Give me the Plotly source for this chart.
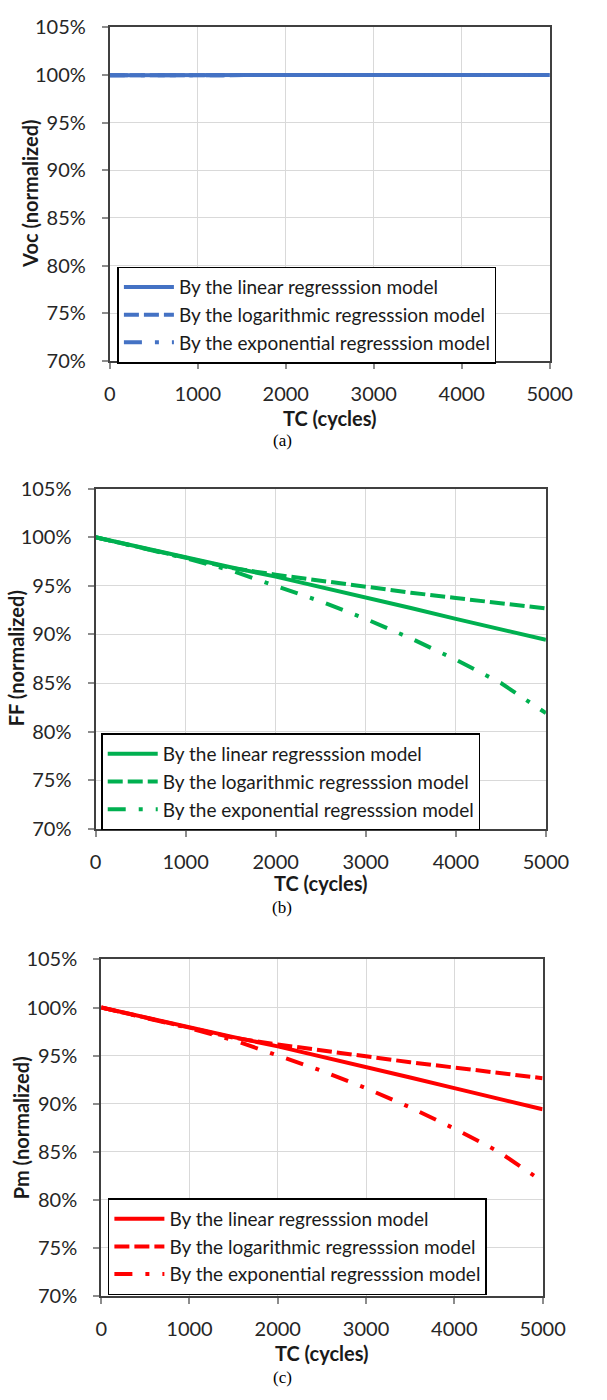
import plotly.graph_objects as go

# ---------------- data ----------------
tc_cycles = [0, 500, 1000, 1500, 2000, 2500, 3000, 3500, 4000, 4500, 5000]

voc_linear = [99.97, 99.98, 100.0, 100.0, 100.0, 100.0, 100.0, 100.0, 100.0, 100.0, 100.0]
voc_log = [99.97, 99.98, 100.0, 100.0, 100.0, 100.0, 100.0, 100.0, 100.0, 100.0, 100.0]
voc_exp = [99.97, 99.98, 100.0, 100.0, 100.0, 100.0, 100.0, 100.0, 100.0, 100.0, 100.0]

ff_linear = [100.0, 98.95, 97.9, 96.92, 95.95, 94.9, 93.82, 92.72, 91.6, 90.5, 89.45]
ff_log = [100.0, 98.95, 97.85, 96.85, 96.15, 95.5, 94.9, 94.3, 93.75, 93.2, 92.68]
ff_exp = [100.0, 98.95, 97.85, 96.6, 95.0, 93.4, 91.6, 89.6, 87.4, 85.0, 81.9]

pm_linear = [100.0, 98.95, 97.9, 96.92, 95.95, 94.9, 93.82, 92.72, 91.6, 90.5, 89.4]
pm_log = [100.0, 98.95, 97.85, 96.85, 96.15, 95.5, 94.9, 94.3, 93.75, 93.2, 92.64]
pm_exp = [100.0, 98.95, 97.85, 96.6, 95.0, 93.4, 91.6, 89.6, 87.4, 85.0, 81.9]

series_names = ["By the linear regresssion model",
                "By the logarithmic regresssion model",
                "By the exponential regresssion model"]
y_titles = ["Voc (normalized)", "FF (normalized)", "Pm (normalized)"]
x_title = "TC (cycles)"
captions = ["(a)", "(b)", "(c)"]
y_ticks = [70, 75, 80, 85, 90, 95, 100, 105]
y_tick_labels = ["70%", "75%", "80%", "85%", "90%", "95%", "100%", "105%"]
x_ticks = [0, 1000, 2000, 3000, 4000, 5000]
x_tick_labels = ["0", "1000", "2000", "3000", "4000", "5000"]

# ---------------- styling ----------------
W, H = 607, 1400
FONT = "Lato"
colors = ["#4472C4", "#00B050", "#FF0000"]
dashes = ["solid", "15px,5px", "18px,13px,4px,13px"]

panels = [
    dict(data=[voc_linear, voc_log, voc_exp], px=(109, 571), py=(14.5, 354),
         leg=(117, 258), ytx=25, xty=411.7, cap=435),
    dict(data=[ff_linear, ff_log, ff_exp], px=(94, 567), py=(484, 830),
         leg=(100, 733), ytx=10, xty=885, cap=910),
    dict(data=[pm_linear, pm_log, pm_exp], px=(100, 563.5), py=(963, 1305),
         leg=(107, 1206), ytx=15.5, xty=1363, cap=1388),
]

fig = go.Figure()
layout = dict(width=W, height=H, margin=dict(l=0, r=0, t=0, b=0),
              plot_bgcolor="white", paper_bgcolor="white",
              font=dict(family=FONT, size=20, color="#222222"),
              annotations=[])

for i, p in enumerate(panels):
    sfx = "" if i == 0 else str(i + 1)
    xa, ya = "x" + sfx, "y" + sfx
    leg = "legend" + sfx
    for j in range(3):
        fig.add_trace(go.Scatter(
            x=tc_cycles, y=p["data"][j], mode="lines", name=series_names[j],
            line=dict(color=colors[i], width=4, dash=dashes[j]),
            xaxis=xa, yaxis=ya, legend=leg, showlegend=True))
    x0, x1 = p["px"][0] / W, p["px"][1] / W
    y0, y1 = 1 - p["py"][1] / H, 1 - p["py"][0] / H
    common = dict(showgrid=True, gridcolor="#D9D9D9", gridwidth=1,
                  showline=True, linecolor="#404040", linewidth=2, mirror=True,
                  ticks="outside", ticklen=6, tickwidth=1.5, tickcolor="#8c8c8c",
                  zeroline=False, tickmode="array",
                  tickfont=dict(family=FONT, size=20, color="#262626"))
    layout["xaxis" + sfx] = dict(domain=[x0, x1], range=[0, 5000], tickvals=x_ticks,
                                 ticktext=x_tick_labels,
                                 anchor=ya, ticklabelstandoff=8, **common)
    layout["yaxis" + sfx] = dict(domain=[y0, y1], range=[70, 105], tickvals=y_ticks,
                                 ticktext=y_tick_labels,
                                 anchor=xa, ticklabelstandoff=12, **common)
    layout[leg] = dict(x=p["leg"][0] / W, y=1 - p["leg"][1] / H, xanchor="left", yanchor="top",
                       bgcolor="white", bordercolor="#000000", borderwidth=1.5,
                       font=dict(family=FONT, size=19, color="#1a1a1a"),
                       tracegroupgap=0, itemwidth=50)
    layout["annotations"] += [
        dict(text="<b>%s</b>" % y_titles[i], x=p["ytx"] / W, y=(y0 + y1) / 2,
             xref="paper", yref="paper", textangle=-90, showarrow=False,
             xanchor="center", yanchor="middle",
             font=dict(family=FONT, size=20, color="#1a1a1a")),
        dict(text="<b>%s</b>" % x_title, x=(x0 + x1) / 2, y=1 - p["xty"] / H,
             xref="paper", yref="paper", showarrow=False,
             xanchor="center", yanchor="middle",
             font=dict(family=FONT, size=20, color="#1a1a1a")),
        dict(text=captions[i], x=290 / W, y=1 - p["cap"] / H,
             xref="paper", yref="paper", showarrow=False,
             xanchor="center", yanchor="middle",
             font=dict(family="Liberation Serif", size=17, color="#000000")),
    ]

fig.update_layout(**layout)
fig.write_html("out.html")
